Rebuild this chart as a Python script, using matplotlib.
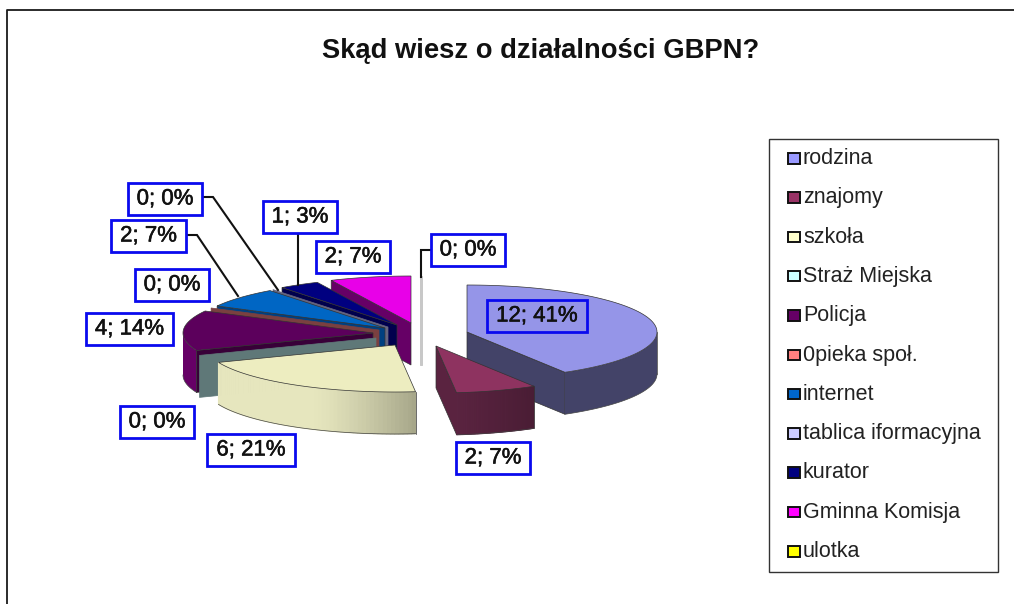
import numpy as np
import matplotlib
matplotlib.use("Agg")
import matplotlib.pyplot as plt
import matplotlib.patheffects as pe
from matplotlib.colors import to_rgb
from matplotlib.patches import Rectangle

plt.rcParams['font.family'] = ['Liberation Sans', 'DejaVu Sans']

title = 'Skąd wiesz o działalności GBPN?'
categories = ['rodzina', 'znajomy', 'szkoła', 'Straż Miejska', 'Policja', '0pieka społ.',
              'internet', 'tablica iformacyjna', 'kurator', 'Gminna Komisja', 'ulotka']
values = [12, 2, 6, 0, 4, 0, 2, 0, 1, 2, 0]
percents = [41, 7, 21, 0, 14, 0, 7, 0, 3, 7, 0]

top_colors = ['#9595E8', '#8E3360', '#EDEDC0', '#CCFFFF', '#5C005C', '#FF8080',
              '#0066C4', '#CCCCFF', '#000080', '#E800E8', '#FFFF00']
wall_colors = ['#434368', '#5A2340', '#E6E6BE', '#5F7878', '#660066', '#7A4040',
               '#004080', '#666680', '#00004D', '#660066', '#C8C8C8']
legend_colors = ['#9999FF', '#993366', '#FFFFCC', '#CCFFFF', '#660066', '#FF8080',
                 '#0066CC', '#CCCCFF', '#000080', '#FF00FF', '#FFFF00']

# pie geometry, in pixels of the picture
rx, ry, depth = 190, 47, 42
# where each slice's tip ended up after exploding
tip_x = [467, 436, 395, 376, 373, 379, 385, 388, 397, 411, 421]
tip_y = [332, 346, 345, 338, 333, 330, 328, 327, 325, 323, 323]
# back to front
draw_order = [10, 9, 8, 7, 6, 5, 4, 3, 2, 0, 1]

# label centres and leader lines
label_x = [537, 493, 251, 157, 129.5, 172, 148.5, 165, 300, 353, 468]
label_y = [315, 457, 449, 421, 328, 284, 235, 198, 216, 256, 249]
leaders = {6: [(186, 235), (197, 235), (238, 296)],
           7: [(202, 197), (213, 197), (278, 290)],
           8: [(298, 232), (298, 285)],
           10: [(431, 250), (421, 250), (421, 277)]}

fig = plt.figure(figsize=(10.14, 6.04), dpi=100)
ax = fig.add_axes([0, 0, 1, 1])
ax.set_xlim(0, 1014)
ax.set_ylim(604, 0)
ax.axis('off')

# frame of the pasted chart
ax.plot([6.5, 6.5, 1014], [604, 9.8, 9.8], color='#1a1a1a', lw=1.3)

ax.text(541, 51.5, title, ha='center', va='center', fontsize=19.7, weight='bold', color='#111111')


def rim(tx, ty, t):
    # t in radians clockwise from 12 o'clock
    return tx + rx*np.sin(t), ty - ry*np.cos(t)


def shade(c, f):
    return tuple(np.array(to_rgb(c))*f)


angles = np.radians(np.concatenate([[0], np.cumsum(values)])/sum(values)*360)

for i in draw_order:
    tx, ty = tip_x[i], tip_y[i]
    a0, a1 = angles[i], angles[i+1]
    edge = dict(edgecolor='#333333', linewidth=0.5)

    # flat walls that face the viewer
    if values[i] == 0:
        x, y = rim(tx, ty, a0)
        lw = 2.0 if i == 10 else 0.5
        ax.fill([tx, x, x, tx], [ty, y, y+depth, ty+depth], facecolor=wall_colors[i],
                edgecolor=wall_colors[i], linewidth=lw)
        continue
    for a, visible in ((a0, np.sin(a0) < -0.01), (a1, np.sin(a1) > 0.01)):
        if visible:
            x, y = rim(tx, ty, a)
            dark = 0.55 if i == 4 else 1.0
            ax.fill([tx, x, x, tx], [ty, y, y+depth, ty+depth], facecolor=shade(wall_colors[i], dark), **edge)

    # outer wall, only the front half of the ellipse shows
    s0, s1 = max(a0, np.pi/2), min(a1, 3*np.pi/2)
    if s1 > s0:
        t = np.linspace(s0, s1, 60)
        x, y = rim(tx, ty, t)
        if i in (1, 2):
            # szkoła and znajomy get darker towards their right corner
            for j in range(len(t)-1):
                if i == 2:
                    f = 1.0 - 0.27*max(0, (np.radians(205) - t[j])/np.radians(31))**1.3
                else:
                    f = 0.82 + 0.18*(t[j]-s0)/(s1-s0)
                c = shade(wall_colors[i], f)
                ax.fill([x[j], x[j+1], x[j+1], x[j]], [y[j], y[j+1], y[j+1]+depth, y[j]+depth],
                        facecolor=c, edgecolor=c, linewidth=0.8)
        else:
            ax.fill(np.r_[x, x[::-1]], np.r_[y, y[::-1]+depth], facecolor=wall_colors[i], edgecolor='none')
        ax.plot(x, y+depth, color='#444444', lw=0.5)
        ax.plot([x[0], x[0]], [y[0], y[0]+depth], color='#333333', lw=0.5)

    # top
    t = np.linspace(a0, a1, 80)
    x, y = rim(tx, ty, t)
    ax.fill(np.r_[tx, x], np.r_[ty, y], facecolor=top_colors[i], **edge)

for pts in leaders.values():
    ax.plot(*zip(*pts), color='#111111', lw=1.5, solid_joinstyle='miter')

for i, v in enumerate(values):
    fc = 'none' if i == 0 else 'white'
    ax.text(label_x[i], label_y[i] + 1, f'{v}; {percents[i]}%', ha='center', va='center', fontsize=16,
            color='#111111', path_effects=[pe.withStroke(linewidth=0.4, foreground='#111111')],
            bbox=dict(boxstyle='square,pad=0.4', mutation_aspect=0.6, facecolor=fc,
                      edgecolor='#0A0AEE', linewidth=2))

# legend
ax.add_patch(Rectangle((769, 139), 229, 433, facecolor='white', edgecolor='#333333', linewidth=1))
for i, name in enumerate(categories):
    yy = 158 + i*39.3
    ax.add_patch(Rectangle((787.5, yy-5), 12, 10.5, facecolor=legend_colors[i], edgecolor='#111111', linewidth=1.4))
    ax.text(803, yy+6, name, ha='left', va='baseline', fontsize=15.5, color='#222222')

fig.savefig('out.png', dpi=100)
